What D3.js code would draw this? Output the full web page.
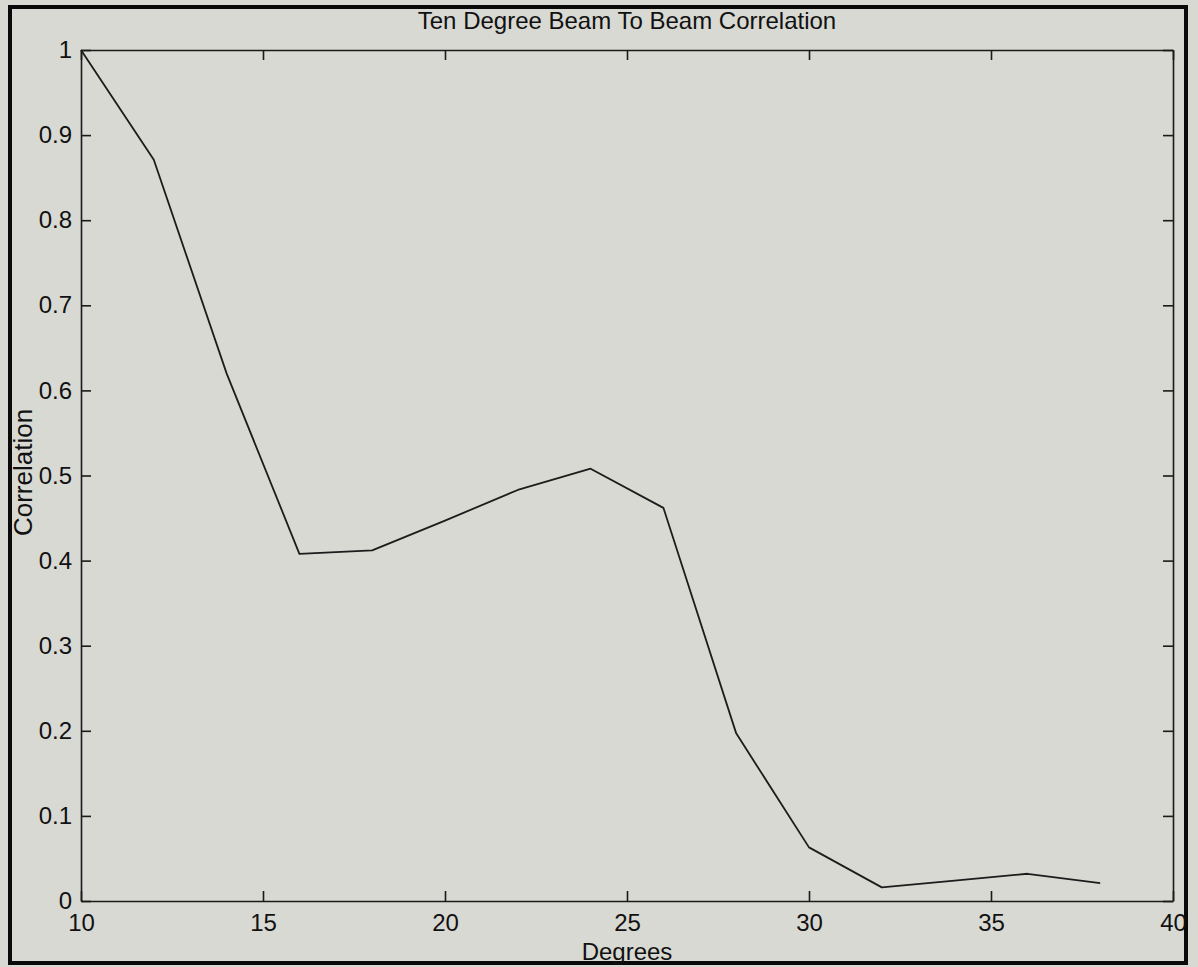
<!DOCTYPE html>
<html>
<head>
<meta charset="utf-8">
<script src="https://cdn.jsdelivr.net/npm/d3@7"></script>
<style>
  html, body { margin: 0; padding: 0; background: #d8d9d3; }
  svg { display: block; }
  text { font-family: "Liberation Sans", Arial, Helvetica, sans-serif; fill: #111; }
</style>
</head>
<body>
<svg id="chart" width="1198" height="967"></svg>
<script>
// Beam separation angle (degrees) and measured correlation
const degrees = [10, 12, 14, 16, 18, 20, 22, 24, 26, 28, 30, 32, 34, 36, 38];
const correlation = [1.0, 0.871, 0.62, 0.408, 0.412, 0.447, 0.483, 0.508, 0.462, 0.197, 0.063, 0.016, 0.024, 0.032, 0.021];
const xTicks = [10, 15, 20, 25, 30, 35, 40];
const yTicks = [0, 0.1, 0.2, 0.3, 0.4, 0.5, 0.6, 0.7, 0.8, 0.9, 1];
const titleText = "Ten Degree Beam To Beam Correlation";
const xLabel = "Degrees";
const yLabel = "Correlation";

const W = 1198, H = 967;
const m = { left: 81, right: 1173, top: 50, bottom: 901 };
const tickLen = 10;

const svg = d3.select("#chart");

svg.append("rect")
  .attr("width", W).attr("height", H)
  .attr("fill", "#d8d9d3");

// outer frame
svg.append("rect")
  .attr("x", 10).attr("y", 7)
  .attr("width", 1176).attr("height", 956)
  .attr("fill", "none")
  .attr("stroke", "#0a0a0a")
  .attr("stroke-width", 4);

const x = d3.scaleLinear().domain([10, 40]).range([m.left, m.right]);
const y = d3.scaleLinear().domain([0, 1]).range([m.bottom, m.top]);

const fmt = d => d3.format("~g")(d);

// bottom axis: inward ticks, labels below
const axBottom = svg.append("g")
  .attr("transform", `translate(0,${m.bottom})`)
  .call(d3.axisBottom(x).tickValues(xTicks).tickSizeInner(-tickLen).tickSizeOuter(0).tickPadding(13).tickFormat(fmt));

// left axis: inward ticks, labels left
const axLeft = svg.append("g")
  .attr("transform", `translate(${m.left},0)`)
  .call(d3.axisLeft(y).tickValues(yTicks).tickSizeInner(-tickLen).tickSizeOuter(0).tickPadding(9).tickFormat(fmt));

// top and right axes: ticks only
const axTop = svg.append("g")
  .attr("transform", `translate(0,${m.top})`)
  .call(d3.axisTop(x).tickValues(xTicks).tickSizeInner(-tickLen).tickSizeOuter(0).tickFormat(""));

const axRight = svg.append("g")
  .attr("transform", `translate(${m.right},0)`)
  .call(d3.axisRight(y).tickValues(yTicks).tickSizeInner(-tickLen).tickSizeOuter(0).tickFormat(""));

[axBottom, axLeft, axTop, axRight].forEach(g => {
  g.select(".domain").attr("stroke", "#1a1a1a").attr("stroke-width", 1.6);
  g.selectAll(".tick line").attr("stroke", "#1a1a1a").attr("stroke-width", 1.6);
  g.selectAll(".tick text")
    .attr("font-size", 24)
    .attr("font-family", "Liberation Sans, Arial, Helvetica, sans-serif")
    .attr("fill", "#111");
});

// title
svg.append("text")
  .attr("x", (m.left + m.right) / 2)
  .attr("y", 29)
  .attr("text-anchor", "middle")
  .attr("font-size", 24)
  .text(titleText);

// axis labels
svg.append("text")
  .attr("x", (m.left + m.right) / 2)
  .attr("y", 960)
  .attr("text-anchor", "middle")
  .attr("font-size", 24)
  .text(xLabel);

svg.append("text")
  .attr("transform", `translate(32,${(m.top + m.bottom) / 2 - 3}) rotate(-90)`)
  .attr("text-anchor", "middle")
  .attr("font-size", 26)
  .text(yLabel);

// correlation curve
const line = d3.line()
  .x((d, i) => x(degrees[i]))
  .y(d => y(d));

svg.append("path")
  .datum(correlation)
  .attr("d", line)
  .attr("fill", "none")
  .attr("stroke", "#1c1c1c")
  .attr("stroke-width", 1.8)
  .attr("stroke-linejoin", "round");
</script>
</body>
</html>
